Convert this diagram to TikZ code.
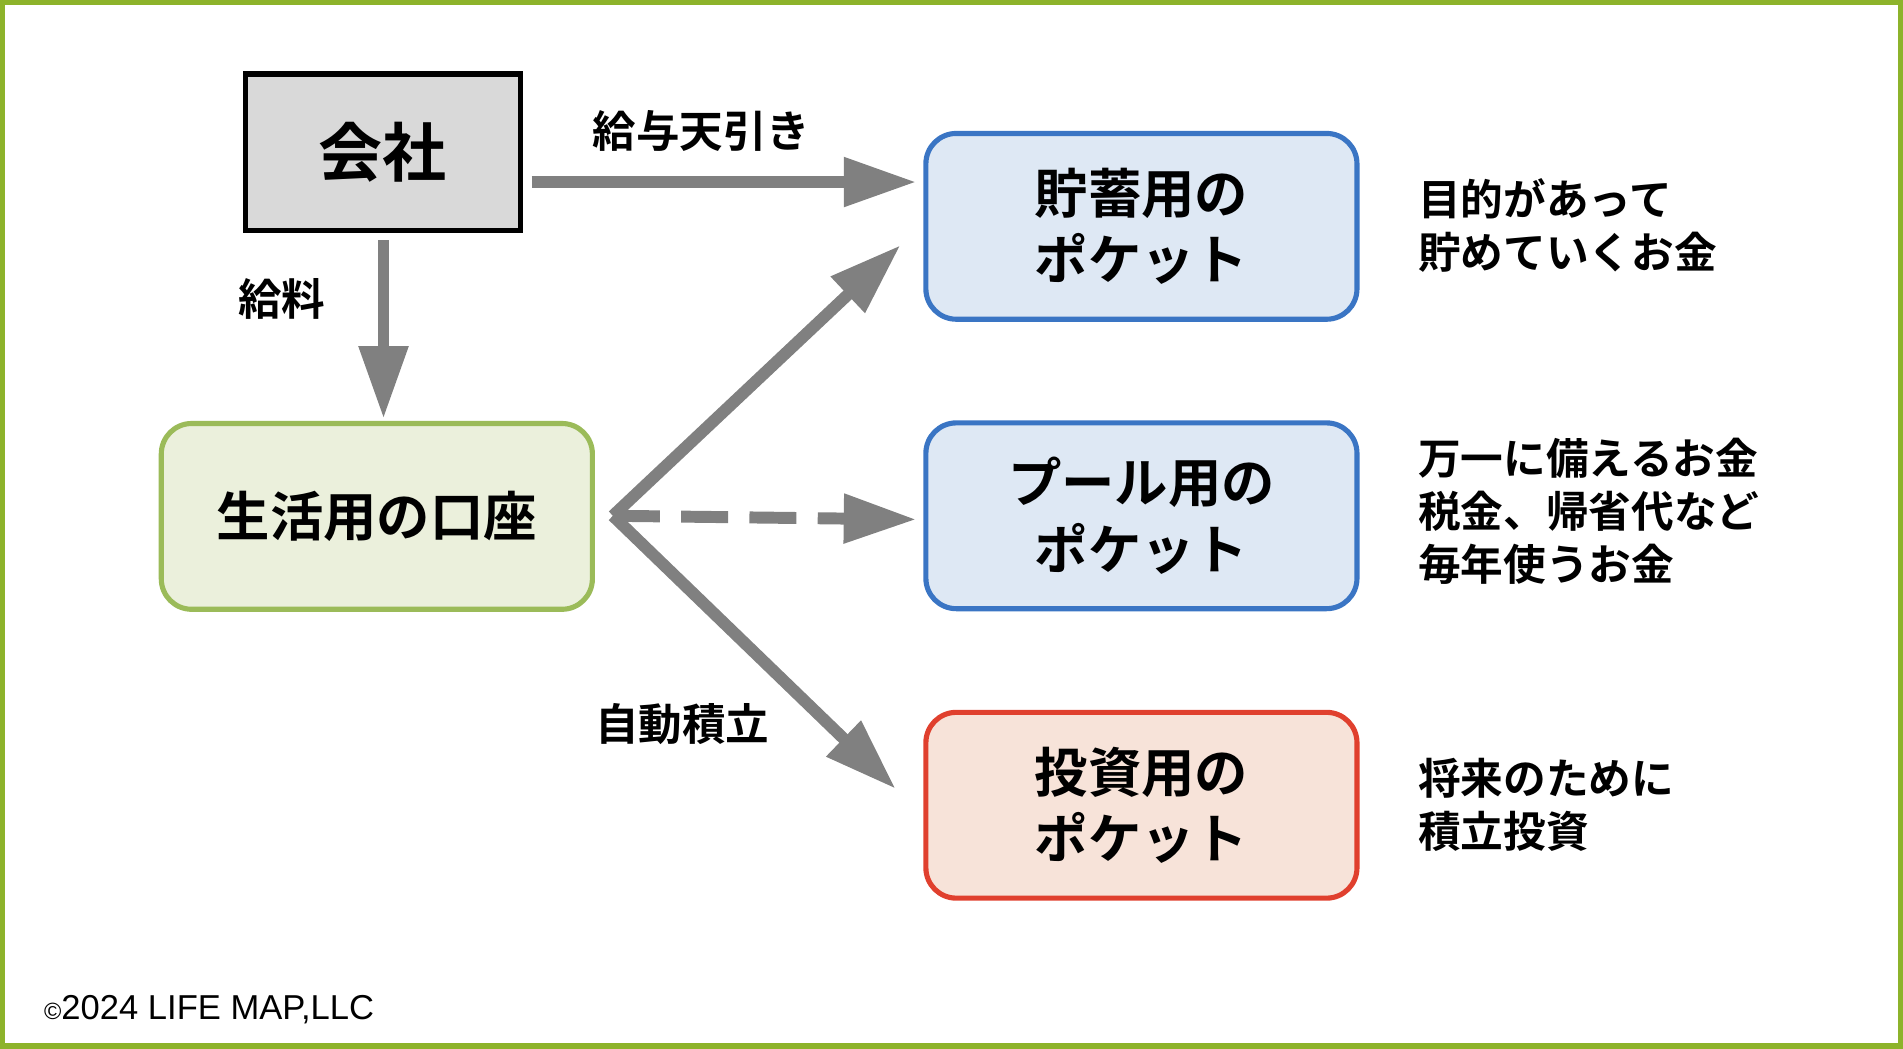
\documentclass[tikz,border=0pt]{standalone}
\usepackage{fontspec}
\newfontfamily\jp{Noto Sans CJK JP Bold}
\setmainfont{Liberation Sans}
\usetikzlibrary{arrows.meta}
\definecolor{bordergreen}{HTML}{8DB32B}
\definecolor{agray}{HTML}{808080}
\definecolor{gfill}{HTML}{EBF0DC}\definecolor{gline}{HTML}{9BBB59}
\definecolor{bfill}{HTML}{DEE8F4}\definecolor{bline}{HTML}{3A75C4}
\definecolor{rfill}{HTML}{F7E3D9}\definecolor{rline}{HTML}{E0402E}
\tikzset{
 box/.style={rounded corners=0.25cm,line width=1.2pt,minimum width=3.55cm,minimum height=1.53cm,align=center,font=\jp\fontsize{12.5}{15.5}\selectfont},
 arr/.style={agray,line width=2.8pt,-{Triangle[length=17pt,width=11pt]}},
 lbl/.style={font=\jp\fontsize{10.2}{12}\selectfont},
 note/.style={font=\jp\fontsize{10}{12.4}\selectfont,align=left,anchor=west}
}
\begin{document}
\begin{tikzpicture}[x=0.01cm,y=-0.01cm]
\useasboundingbox (0,0) rectangle (1568,864);
\draw[bordergreen,line width=2pt] (1,1) rectangle (1567,863);
\node[draw=black,fill={rgb,255:red,217;green,217;blue,217},line width=1.2pt,minimum width=2.27cm,minimum height=1.29cm,font=\jp\fontsize{15}{18}\selectfont] (co) at (315.5,125.5) {会社};
\node[box,fill=gfill,draw=gline] (li) at (310.5,425.5) {生活用の口座};
\node[box,fill=bfill,draw=bline] (sv) at (940.5,186.5) {貯蓄用の\\ポケット};
\node[box,fill=bfill,draw=bline] (pl) at (940.5,425) {プール用の\\ポケット};
\node[box,fill=rfill,draw=rline] (iv) at (940.5,663.5) {投資用の\\ポケット};
\coordinate (c1) at (438,150); \coordinate (c1e) at (755,150);
\coordinate (c2) at (316,198); \coordinate (c2e) at (316,345);
\coordinate (b) at (505,425);
\coordinate (e1) at (742,202); \coordinate (e2) at (755,428); \coordinate (e3) at (738,650);
\draw[arr] (c1) -- (c1e);
\draw[arr] (c2) -- (c2e);
\draw[arr] (b) -- (e1);
\draw[arr,dash pattern=on 11pt off 5pt] (b) -- (e2);
\draw[arr] (b) -- (e3);
\node[lbl] (l1) at (578,108) {給与天引き};
\node[lbl] (l2) at (232,246) {給料};
\node[lbl] (l3) at (562,597) {自動積立};
\node[note] (n1) at (1156,186) {目的があって\\貯めていくお金};
\node[note] (n2) at (1156,421) {万一に備えるお金\\税金、帰省代など\\毎年使うお金};
\node[note] (n3) at (1156,663) {将来のために\\積立投資};
\node[anchor=west,font=\fontsize{8.1}{10}\selectfont] (cp) at (24,832) {{\fontsize{5.5}{6}\selectfont ©}2024 LIFE MAP,LLC};
\end{tikzpicture}
\end{document}
